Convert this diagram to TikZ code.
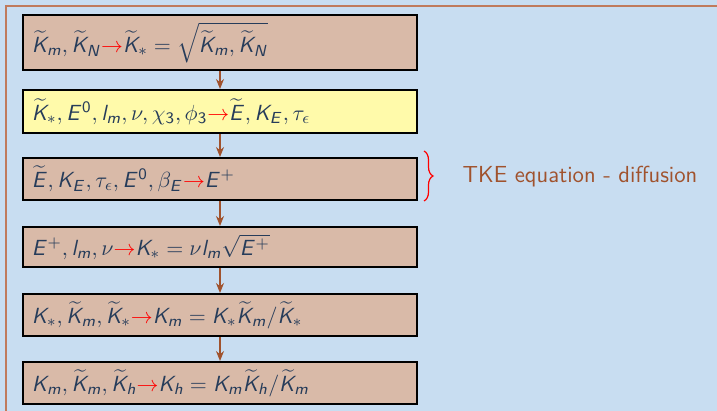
\documentclass[tikz,border=0pt]{standalone}
\usepackage{amsmath}
\usepackage{xcolor}
\usepackage{tikz}
\usetikzlibrary{positioning, arrows.meta, decorations.pathreplacing}
% sans slanted letters in math, as on the slide
\DeclareSymbolFont{sfslant}{OT1}{cmss}{m}{sl}
\DeclareSymbolFont{sfupright}{OT1}{cmss}{m}{n}
\DeclareMathSymbol{K}{\mathalpha}{sfslant}{`K}
\DeclareMathSymbol{E}{\mathalpha}{sfslant}{`E}
\DeclareMathSymbol{N}{\mathalpha}{sfslant}{`N}
\DeclareMathSymbol{m}{\mathalpha}{sfslant}{`m}
\DeclareMathSymbol{l}{\mathalpha}{sfslant}{`l}
\DeclareMathSymbol{h}{\mathalpha}{sfslant}{`h}
\DeclareMathSymbol{0}{\mathalpha}{sfupright}{`0}
\DeclareMathSymbol{3}{\mathalpha}{sfupright}{`3}
\DeclareMathSymbol{=}{\mathrel}{sfupright}{`=}
\DeclareMathSymbol{+}{\mathbin}{sfupright}{`+}
\definecolor{bgblue}{RGB}{200,221,241}
\definecolor{boxtan}{RGB}{217,186,168}
\definecolor{boxyellow}{RGB}{255,250,170}
\definecolor{framebrown}{RGB}{192,122,92}
\definecolor{flowbrown}{RGB}{160,82,45}
\definecolor{mathblue}{RGB}{38,60,90}
\newcommand{\redto}{{\color{red}\rightarrow}}
\tikzset{
  flowbox/.style={draw=black, line width=1pt, fill=boxtan, text=mathblue,
    text width=188pt, align=left, inner xsep=4.5pt, minimum height=21pt,
    font=\fontsize{11.45}{13}\selectfont},
  flowarrow/.style={flowbrown, line width=0.6pt, -{Stealth[length=5pt,width=4pt]}}
}

\begin{document}
\begin{tikzpicture}[x=0.5pt,y=-0.5pt]
\fill[bgblue] (0,0) rectangle (717,411);
\useasboundingbox (0,0) rectangle (717,411);
\draw[framebrown, line width=1pt] (6,411) -- (6,6) -- (717,6);
\node[flowbox, minimum height=27.5pt] (kstar) at (220,42.5)
  {$\widetilde{K}_m, \widetilde{K}_N\redto\widetilde{K}_* = \sqrt{\widetilde{K}_m, \widetilde{K}_N}$};
\node[flowbox, fill=boxyellow, minimum height=21.5pt] (etilde) at (220,111.5)
  {$\widetilde{K}_*, E^0, l_m, \nu, \chi_3, \phi_3\redto\widetilde{E}, K_E, \tau_\epsilon$};
\node[flowbox] (eplus) at (220,179)
  {$\widetilde{E}, K_E, \tau_\epsilon, E^0, \beta_E\redto E^+$};
\node[flowbox, minimum height=20pt] (kfromE) at (220,247)
  {$E^+, l_m, \nu\redto K_* = \nu l_m\sqrt{E^+}$};
\node[flowbox] (kmom) at (220,315)
  {$K_*, \widetilde{K}_m, \widetilde{K}_*\redto K_m = K_*\widetilde{K}_m/\widetilde{K}_*$};
\node[flowbox] (kheat) at (220,383)
  {$K_m, \widetilde{K}_m, \widetilde{K}_h\redto K_h = K_m\widetilde{K}_h/\widetilde{K}_m$};
\foreach \a/\b in {kstar/etilde, etilde/eplus, eplus/kfromE, kfromE/kmom, kmom/kheat}
  \draw[flowarrow] (\a.south) -- (\b.north);
\coordinate (bracetop) at (424,151);
\coordinate (bracebot) at (424,201);
\draw[red, line width=0.6pt, decorate, decoration={brace, amplitude=4.5pt}] (bracetop) -- (bracebot);
\node[flowbrown, font=\sffamily\fontsize{11.6}{13}\selectfont] (tke) at (580,177) {TKE equation - diffusion};
\end{tikzpicture}
\end{document}
